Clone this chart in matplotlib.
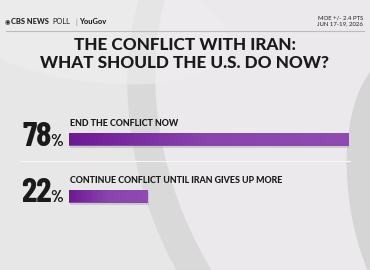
import matplotlib
matplotlib.use("Agg")
import matplotlib.pyplot as plt
import numpy as np
from matplotlib.patches import Ellipse

answers = ["END THE CONFLICT NOW", "CONTINUE CONFLICT UNTIL IRAN GIVES UP MORE"]
shares = [78, 22]
title_lines = ["THE CONFLICT WITH IRAN:", "WHAT SHOULD THE U.S. DO NOW?"]
moe_note = ["MOE +/- 2.4 PTS", "JUN 17-19, 2026"]

W, H = 370, 270
COND = ["Barlow Condensed", "DejaVu Sans"]
fig = plt.figure(figsize=(W / 100, H / 100), dpi=100)
fig.patch.set_facecolor("#e8e7e8")

# background swooshes
bg = fig.add_axes([0, 0, 1, 1])
bg.set_xlim(0, W)
bg.set_ylim(H, 0)
bg.axis("off")
bg.add_patch(Ellipse((330, 150), 380, 560, angle=-20, facecolor="#dad9da", edgecolor="none"))
bg.add_patch(Ellipse((345, 140), 355, 530, angle=-20, facecolor="#ebe9eb", edgecolor="none"))
bg.add_patch(Ellipse((425, 200), 150, 300, angle=-10, facecolor="#d6d5d6", edgecolor="none"))
bg.add_patch(Ellipse((80, 20), 300, 120, angle=10, facecolor="#efeeef", edgecolor="none", alpha=0.6))

# header
hdr = dict(fontsize=5.4, color="#222222", va="center", ha="left", family="Lato")
bg.text(5, 22, "\u25C9", fontsize=4.5, color="#222222", va="center", ha="left")
bg.text(11, 22, "CBS NEWS", fontweight="black", **hdr)
bg.text(52.5, 22, "POLL", fontweight="normal", **hdr)
bg.text(75.5, 22, "|", fontweight="normal", **dict(hdr, color="#888888"))
bg.text(79.5, 22, "YouGov", fontweight="black", **hdr)
bg.text(363, 17.5, moe_note[0], fontsize=4.3, color="#222222", va="center", ha="right", family="Lato")
bg.text(363, 24, moe_note[1], fontsize=4.3, color="#222222", va="center", ha="right", family="Lato")
bg.plot([6, 364], [31, 31], color="#bdbcbd", lw=0.8)

for k, line in enumerate(title_lines):
    bg.text(185, 45 + 17.5 * k, line, fontsize=12.3, fontweight="black", color="#1a1a1a",
            ha="center", va="center", family="Lato")
bg.plot([20, 350], [161, 161], color="#f7f7f7", lw=0.8)

# bars
left_px, right_px = 69, 349
y0_px, step_px = 139, 57
ax = fig.add_axes([left_px / W, 1 - (y0_px + 1.5 * step_px) / H,
                   (right_px - left_px) / W, 2 * step_px / H])
ypos = np.arange(len(shares))
bar_h = 13 / step_px
ax.barh(ypos + 0.045, shares, left=0.4, height=bar_h, color="#a9a8a9", alpha=0.45)
bars = ax.barh(ypos, shares, height=bar_h, color="#8b46ad")
grad = np.linspace(0, 1, 256).reshape(1, -1)
cmap = matplotlib.colors.LinearSegmentedColormap.from_list("p", ["#6c1a93", "#8a45ad", "#8f4bb0"])
for b in bars:
    x0, y0 = b.get_x(), b.get_y()
    im = ax.imshow(grad, extent=[x0, x0 + b.get_width(), y0 + b.get_height(), y0],
                   aspect="auto", cmap=cmap, zorder=3)
    im.set_clip_path(b)
ax.set_xlim(0, max(shares))
ax.set_ylim(1.5, -0.5)
ax.axis("off")

for i, (lab, v) in enumerate(zip(answers, shares)):
    ax.annotate(lab, (0, i - bar_h / 2), xytext=(0.5, 3.0), textcoords="offset points",
                fontsize=6.4, fontweight="black", color="#1a1a1a", ha="left", va="bottom",
                family="Lato")
    ax.annotate(str(v), (0, i + bar_h / 2), xytext=(-12.3, 0), textcoords="offset points",
                fontsize=25, fontweight="bold", fontstyle="normal", color="#1a1a1a",
                ha="right", va="baseline", family=COND)
    ax.annotate("%", (0, i + bar_h / 2), xytext=(-4.2, 0), textcoords="offset points",
                fontsize=12, fontweight="bold", fontstyle="normal", color="#1a1a1a",
                ha="right", va="baseline", family=COND)

fig.savefig("out.png", dpi=100, facecolor=fig.get_facecolor())
